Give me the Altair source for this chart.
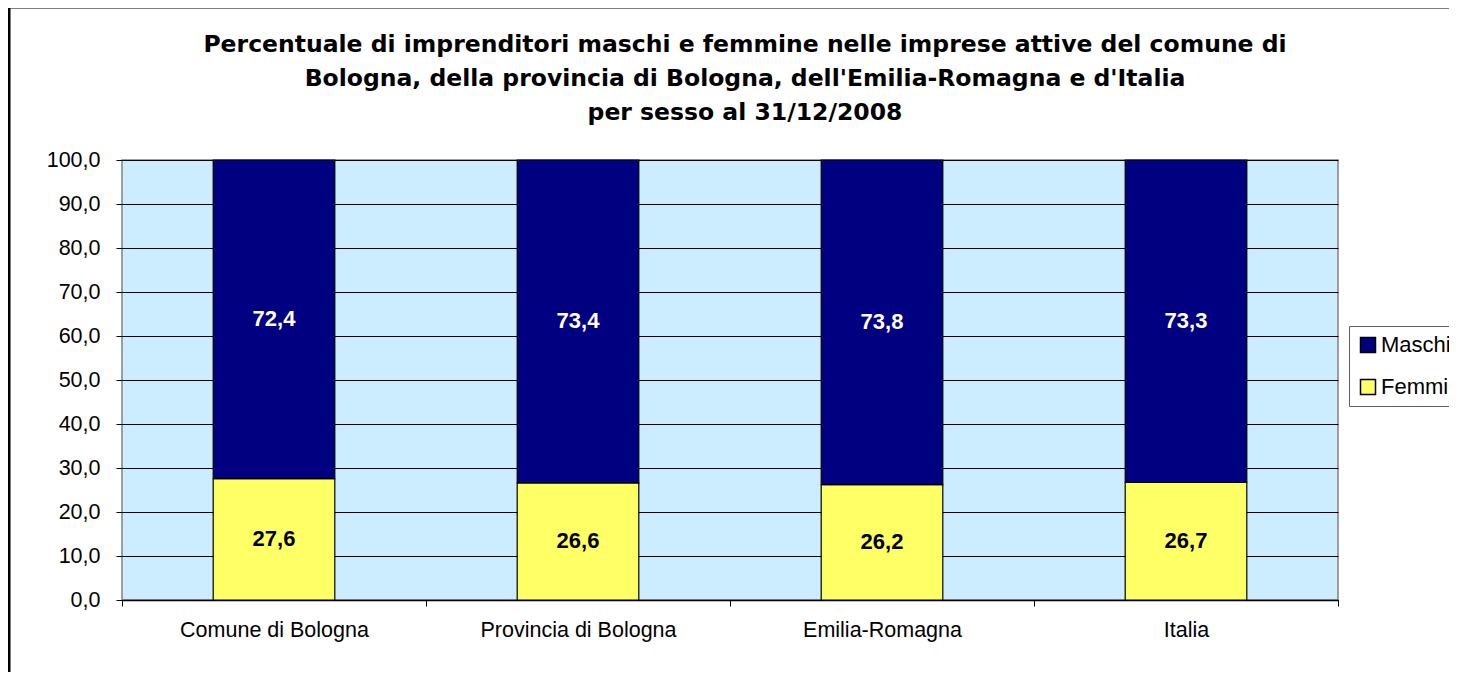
import altair as alt
import pandas as pd

categories = ["Comune di Bologna", "Provincia di Bologna", "Emilia-Romagna", "Italia"]
femmine = [27.6, 26.6, 26.2, 26.7]
maschi = [72.4, 73.4, 73.8, 73.3]
series = ["Maschi", "Femmine"]
colors = ["#000080", "#FFFF66"]
title_lines = [
    "Percentuale di imprenditori maschi e femmine nelle imprese attive del comune di",
    "Bologna, della provincia di Bologna, dell'Emilia-Romagna e d'Italia",
    "per sesso al 31/12/2008",
]

rows = []
for c, f, m in zip(categories, femmine, maschi):
    rows.append({"cat": c, "serie": "Femmine", "value": f, "ord": 0})
    rows.append({"cat": c, "serie": "Maschi", "value": m, "ord": 1})
df = pd.DataFrame(rows)

FONT = "Liberation Sans"
W, H = 1216, 440

base = alt.Chart(df).transform_stack(
    stack="value", groupby=["cat"], as_=["y0", "y1"], sort=[alt.SortField("ord")]
).transform_calculate(
    mid="(datum.y0 + datum.y1) / 2",
    lab="replace(format(datum.value, '.1f'), '.', ',')",
)

xscale = alt.Scale(paddingInner=0, paddingOuter=0)
yscale = alt.Scale(domain=[0, 100], nice=False)

bars = base.mark_bar(stroke="black", strokeWidth=1.2, width=alt.RelativeBandSize(0.4)).encode(
    x=alt.X(
        "cat:N", sort=categories, scale=xscale,
        axis=alt.Axis(
            title=None, labelFont=FONT, labelFontSize=21.5, labelColor="black",
            labelPadding=13, labelLimit=0, domainColor="black", domainWidth=1.5,
            ticks=True, tickBand="extent", tickSize=6, tickColor="black",
            grid=False, labelAngle=0,
        ),
    ),
    y=alt.Y(
        "y0:Q", scale=yscale,
        axis=alt.Axis(
            title=None, values=list(range(0, 101, 10)),
            labelExpr="replace(format(datum.value, '.1f'), '.', ',')",
            labelFont=FONT, labelFontSize=21.5, labelColor="black", labelPadding=16,
            grid=True, gridColor="black", gridWidth=1,
            tickColor="black", tickSize=6, domain=False,
        ),
    ),
    y2="y1:Q",
    color=alt.Color(
        "serie:N",
        scale=alt.Scale(domain=series, range=colors),
        legend=alt.Legend(
            title=None, orient="none", legendX=1227, legendY=166,
            labelFont=FONT, labelFontSize=22, labelColor="black", labelOffset=2,
            symbolType="square", symbolSize=225, symbolStrokeColor="black",
            symbolStrokeWidth=1.5, rowPadding=20, padding=8,
            strokeColor="#606060", fillColor="white",
        ),
    ),
)

text = base.mark_text(font=FONT, fontSize=22, fontWeight="bold").encode(
    x=alt.X("cat:N", sort=categories, scale=xscale),
    y=alt.Y("mid:Q", scale=yscale),
    text="lab:N",
    color=alt.condition(alt.datum.serie == "Maschi", alt.value("white"), alt.value("black")),
)

marker = pd.DataFrame({"b": [0]})
frame = alt.Chart(marker).mark_rule(color="black", strokeWidth=3).encode(
    x=alt.value(-113), x2=alt.value(1400), y=alt.value(-153)
)
frame_l = alt.Chart(marker).mark_rule(color="black", strokeWidth=3).encode(
    x=alt.value(-113), y=alt.value(-153), y2=alt.value(600)
)

title_layers = []
for i, line in enumerate(title_lines):
    title_layers.append(
        alt.Chart(pd.DataFrame({"t": [line]})).mark_text(
            font="DejaVu Sans", fontSize=23.5, fontWeight="bold", color="black",
            align="center", baseline="middle",
        ).encode(text="t:N", x=alt.value(623), y=alt.value([-115, -81, -47][i]))
    )

chart = alt.layer(bars, text, frame, frame_l, *title_layers).properties(
    width=W, height=H,
    autosize=alt.AutoSizeParams(type="none"),
    padding={"left": 114, "top": 152, "right": 111, "bottom": 72},
).configure_view(
    fill="#CCECFF", stroke="#808080", strokeWidth=1.5
)

chart.save("out.html", embed_options={"renderer": "svg", "actions": False})
